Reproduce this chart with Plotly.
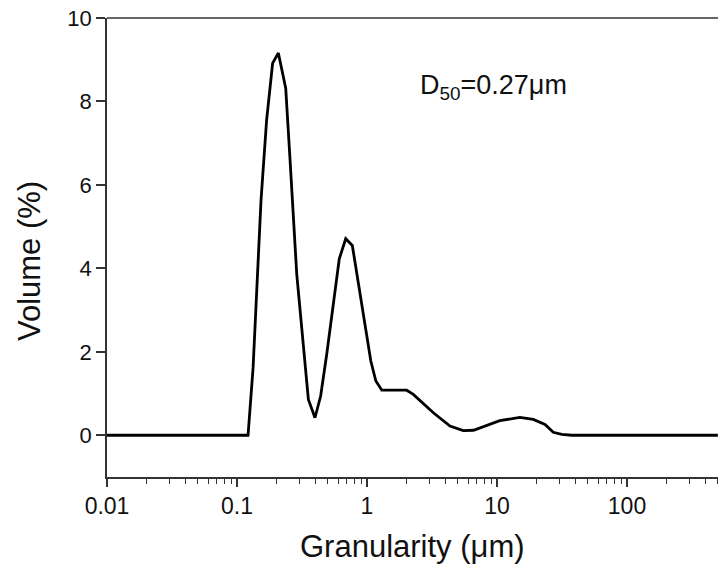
import plotly.graph_objects as go

# Particle size distribution
size_um = [0.01, 0.1216, 0.133, 0.153, 0.169, 0.188, 0.208, 0.237, 0.256, 0.288,
           0.354, 0.398, 0.44, 0.49, 0.612, 0.686, 0.771, 0.937, 1.07, 1.17,
           1.30, 1.59, 2.02, 2.27, 3.24, 4.35, 5.5, 6.6, 8.8, 10.5,
           15.0, 19.0, 23.4, 27.1, 31.5, 37.6, 500]
volume_pct = [0, 0, 1.62, 5.63, 7.56, 8.92, 9.16, 8.32, 6.59, 3.87,
              0.86, 0.42, 0.94, 1.94, 4.23, 4.71, 4.55, 2.90, 1.78, 1.30,
              1.08, 1.08, 1.08, 0.98, 0.54, 0.22, 0.11, 0.12, 0.26, 0.35,
              0.43, 0.38, 0.26, 0.07, 0.02, 0, 0]

x_tick_vals = [0.01, 0.1, 1, 10, 100]
x_tick_text = ["0.01", "0.1", "1", "10", "100"]
y_tick_vals = [0, 2, 4, 6, 8, 10]
x_title = "Granularity (μm)"
y_title = "Volume (%)"
annotation_text = "D<sub>50</sub>=0.27μm"

minor_vals = [m * 10 ** e for e in range(-2, 3) for m in range(2, 10)]

fig = go.Figure()
fig.add_trace(go.Scatter(
    x=size_um, y=volume_pct, mode="lines",
    line=dict(color="black", width=2.8),
    showlegend=False, hoverinfo="skip",
))

axis_color = "#333333"
text_color = "#111111"
font_family = "Liberation Sans, Arial, sans-serif"

fig.update_xaxes(
    type="log", range=[-2, 2.7], automargin=False,
    tickmode="array", tickvals=x_tick_vals, ticktext=x_tick_text,
    ticks="outside", ticklen=8, tickwidth=1.5, tickcolor=axis_color,
    minor=dict(tickmode="array", tickvals=minor_vals, ticks="outside",
               ticklen=5, tickwidth=1.2, tickcolor=axis_color, showgrid=False),
    showline=True, linecolor=axis_color, linewidth=1.5, mirror=False,
    showgrid=False, zeroline=False,
    tickfont=dict(size=23, color=text_color, family=font_family),
)
fig.update_yaxes(
    range=[-1, 10], automargin=False,
    tickmode="array", tickvals=y_tick_vals,
    ticks="outside", ticklen=9, tickwidth=1.5, tickcolor=axis_color,
    showline=True, linecolor=axis_color, linewidth=1.5,
    showgrid=False, zeroline=False,
    tickfont=dict(size=22, color=text_color, family=font_family),
)

# top border line
fig.add_shape(type="line", xref="paper", yref="paper", x0=0, x1=1, y0=1, y1=1,
              line=dict(color=axis_color, width=1.5))

fig.add_annotation(
    x=0.5, y=-0.152, xref="paper", yref="paper", xanchor="center", yanchor="middle",
    text=x_title, showarrow=False,
    font=dict(size=31, color=text_color, family=font_family),
)
fig.add_annotation(
    x=-0.128, y=0.47, xref="paper", yref="paper", xanchor="center", yanchor="middle",
    text=y_title, showarrow=False, textangle=-90,
    font=dict(size=31, color=text_color, family=font_family),
)
fig.add_annotation(
    x=0.632, y=0.85, xref="paper", yref="paper", xanchor="center", yanchor="middle",
    text=annotation_text, showarrow=False,
    font=dict(size=27, color=text_color, family=font_family),
)

fig.update_layout(
    width=718, height=574,
    margin=dict(l=107, r=0, t=18, b=97, autoexpand=False),
    plot_bgcolor="white", paper_bgcolor="white",
)

fig.write_html("out.html",
               config={"displayModeBar": False},
               post_script="document.body.style.margin='0';document.body.style.overflow='hidden';")
